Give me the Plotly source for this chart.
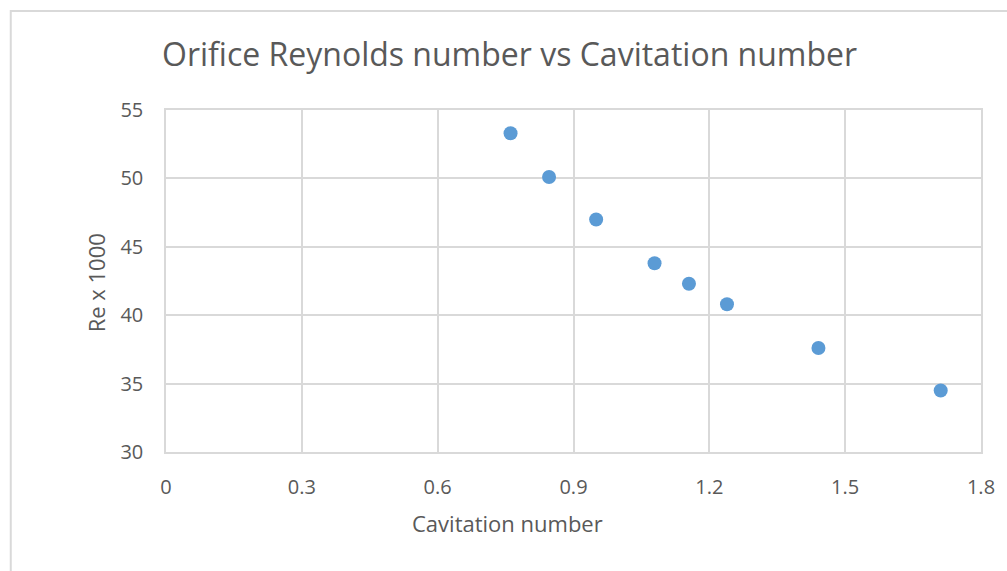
import plotly.graph_objects as go

# Measured orifice data
cavitation_number = [0.761, 0.846, 0.950, 1.079, 1.155, 1.239, 1.441, 1.711]
reynolds_x1000 = [53.3, 50.1, 47.0, 43.8, 42.3, 40.8, 37.6, 34.5]

x_ticks = [0, 0.3, 0.6, 0.9, 1.2, 1.5, 1.8]
x_tick_labels = ["0", "0.3", "0.6", "0.9", "1.2", "1.5", "1.8"]
y_ticks = [30, 35, 40, 45, 50, 55]

W, H = 1007, 571
ML, MR, MT, MB = 166, 22, 110, 119
pw, ph = W - ML - MR, H - MT - MB

grid = "#D9D9D9"
text = "#595959"
font = "Open Sans"

fig = go.Figure(
    go.Scatter(
        x=cavitation_number,
        y=reynolds_x1000,
        mode="markers",
        marker=dict(size=14, color="#5B9BD5", line=dict(width=0)),
        showlegend=False,
    )
)

fig.update_layout(
    width=W,
    height=H,
    margin=dict(l=ML, r=MR, t=MT, b=MB),
    paper_bgcolor="white",
    plot_bgcolor="white",
    font=dict(family=font, color=text),
    title=dict(
        text="Orifice Reynolds number vs Cavitation number",
        x=162 / W,
        xanchor="left",
        y=1 - 55 / H,
        yanchor="middle",
        font=dict(size=32, color=text, family=font),
    ),
    xaxis=dict(
        range=[0, 1.8],
        tickvals=x_ticks,
        ticktext=x_tick_labels,
        showgrid=True,
        gridcolor=grid,
        gridwidth=1.5,
        showline=True,
        linecolor=grid,
        linewidth=1.5,
        mirror=True,
        zeroline=False,
        ticks="",
        ticklabelstandoff=16,
        tickfont=dict(size=20, color=text),
    ),
    yaxis=dict(
        range=[30, 55],
        tickvals=y_ticks,
        showgrid=True,
        gridcolor=grid,
        gridwidth=1.5,
        showline=True,
        linecolor=grid,
        linewidth=1.5,
        mirror=True,
        zeroline=False,
        ticks="",
        ticklabelstandoff=17,
        tickfont=dict(size=20, color=text),
    ),
)

# Axis titles, placed in the chart area
fig.add_annotation(
    text="Cavitation number",
    xref="paper", yref="paper",
    x=(509 - ML) / pw, y=-(523 - MT - ph) / ph,
    xanchor="center", yanchor="middle",
    showarrow=False,
    font=dict(size=22, color=text, family=font),
)
fig.add_annotation(
    text="Re x 1000",
    xref="paper", yref="paper",
    x=(96 - ML) / pw, y=(MT + ph - 283) / ph,
    xanchor="center", yanchor="middle",
    textangle=-90,
    showarrow=False,
    font=dict(size=22, color=text, family=font),
)

# Chart-area frame
fig.add_shape(
    type="rect",
    xref="paper",
    yref="paper",
    x0=(10 - ML) / pw,
    x1=(W + 20 - ML) / pw,
    y0=-(H + 20 - MT - ph) / ph,
    y1=(MT - 11 + ph) / ph,
    line=dict(color="#D9D9D9", width=2),
    layer="below",
)

fig.write_html("out.html")
